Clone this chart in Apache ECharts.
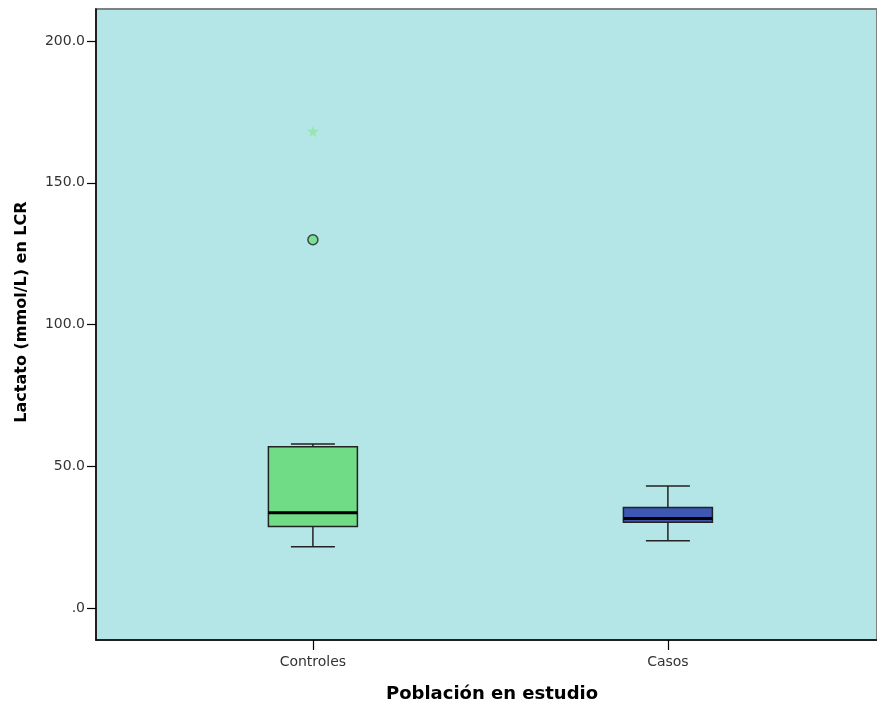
<!DOCTYPE html>
<html><head><meta charset="utf-8">
<script src="https://cdn.jsdelivr.net/npm/echarts@6/dist/echarts.min.js"></script>
<style>html,body{margin:0;padding:0;background:#fff}#c{width:877px;height:709px}</style>
</head><body><div id="c"></div>
<script>
const categories = ['Controles', 'Casos'];
const catPositions = [1, 2];
// [lower whisker, Q1, median, Q3, upper whisker]
const boxStats = [
  [21.6, 28.7, 33.6, 56.9, 57.8],
  [23.7, 30.2, 31.6, 35.4, 43.0]
];
const boxColors = ['#70dc85', '#3c58b4'];
const outlierCircles = [[1, 129.9]];
const outlierStars = [[1, 168.2]];
const yTicks = [0, 50, 100, 150, 200];
const xTitle = 'Población en estudio';
const yTitle = 'Lactato (mmol/L) en LCR';

const chart = echarts.init(document.getElementById('c'), null, {renderer: 'canvas'});
const boxData = boxStats.map((s, i) => [catPositions[i]].concat(s));
const FONT = 'DejaVu Sans';

chart.setOption({
  animation: false,
  grid: {left: 96, top: 9, right: -5, bottom: 69, show: true, backgroundColor: '#b4e6e7',
         borderColor: '#808080', borderWidth: 2},
  graphic: [
    {type: 'text', x: 492, y: 694,
     style: {text: xTitle, font: 'bold 18px "DejaVu Sans"', fill: '#000',
             textAlign: 'center', textVerticalAlign: 'middle'}},
    {type: 'text', x: 22, y: 312, rotation: Math.PI / 2, originX: 0, originY: 0,
     style: {text: yTitle, font: 'bold 16px "DejaVu Sans"', fill: '#000',
             textAlign: 'center', textVerticalAlign: 'middle'}}
  ],
  xAxis: {
    type: 'value', min: 0.389, max: 2.589,
    axisLine: {show: true, onZero: false, lineStyle: {color: '#000', width: 1.5}},
    axisTick: {show: true, customValues: catPositions, length: 10, lineStyle: {color: '#000', width: 1.2}},
    axisLabel: {customValues: catPositions, formatter: v => categories[Math.round(v) - 1] || '',
                fontFamily: FONT, fontSize: 14, color: '#333', margin: 15},
    splitLine: {show: false}
  },
  yAxis: {
    type: 'value', min: -11.3, max: 211.3,
    axisLine: {show: true, onZero: false, lineStyle: {color: '#000', width: 1.5}},
    axisTick: {show: true, customValues: yTicks, length: 9, lineStyle: {color: '#000', width: 1.2}},
    axisLabel: {customValues: yTicks, formatter: v => v === 0 ? '.0' : v.toFixed(1),
                fontFamily: FONT, fontSize: 14, color: '#333', margin: 11},
    splitLine: {show: false}
  },
  series: [
    {
      type: 'custom',
      data: boxData,
      encode: {x: 0, y: [1, 2, 3, 4, 5]},
      renderItem: function (params, api) {
        const x = api.value(0);
        const lo = api.coord([x, api.value(1)]);
        const q1 = api.coord([x, api.value(2)]);
        const med = api.coord([x, api.value(3)]);
        const q3 = api.coord([x, api.value(4)]);
        const hi = api.coord([x, api.value(5)]);
        const cx = lo[0];
        const bw = 89, cw = 44;
        const ls = {stroke: '#222', lineWidth: 1.5};
        return {
          type: 'group',
          children: [
            {type: 'line', shape: {x1: cx, y1: lo[1], x2: cx, y2: q1[1]}, style: ls},
            {type: 'line', shape: {x1: cx, y1: hi[1], x2: cx, y2: q3[1]}, style: ls},
            {type: 'line', shape: {x1: cx - cw / 2, y1: lo[1], x2: cx + cw / 2, y2: lo[1]}, style: ls},
            {type: 'line', shape: {x1: cx - cw / 2, y1: hi[1], x2: cx + cw / 2, y2: hi[1]}, style: ls},
            {type: 'rect', shape: {x: cx - bw / 2, y: q3[1], width: bw, height: q1[1] - q3[1]},
             style: {fill: boxColors[params.dataIndex], stroke: '#222', lineWidth: 1.5}},
            {type: 'line', shape: {x1: cx - bw / 2, y1: med[1], x2: cx + bw / 2, y2: med[1]},
             style: {stroke: '#000', lineWidth: 3}}
          ]
        };
      },
      z: 3
    },
    {
      type: 'scatter', data: outlierCircles, symbol: 'circle', symbolSize: 10,
      itemStyle: {color: '#70dc85', borderColor: '#222', borderWidth: 1.5}, z: 4
    },
    {
      type: 'scatter', data: outlierStars,
      symbol: 'path://M50,0 L61,35 L98,35 L68,57 L79,91 L50,70 L21,91 L32,57 L2,35 L39,35 Z',
      symbolSize: 12, itemStyle: {color: '#8ee6a0'}, z: 4
    }
  ]
});
</script>
</body></html>
